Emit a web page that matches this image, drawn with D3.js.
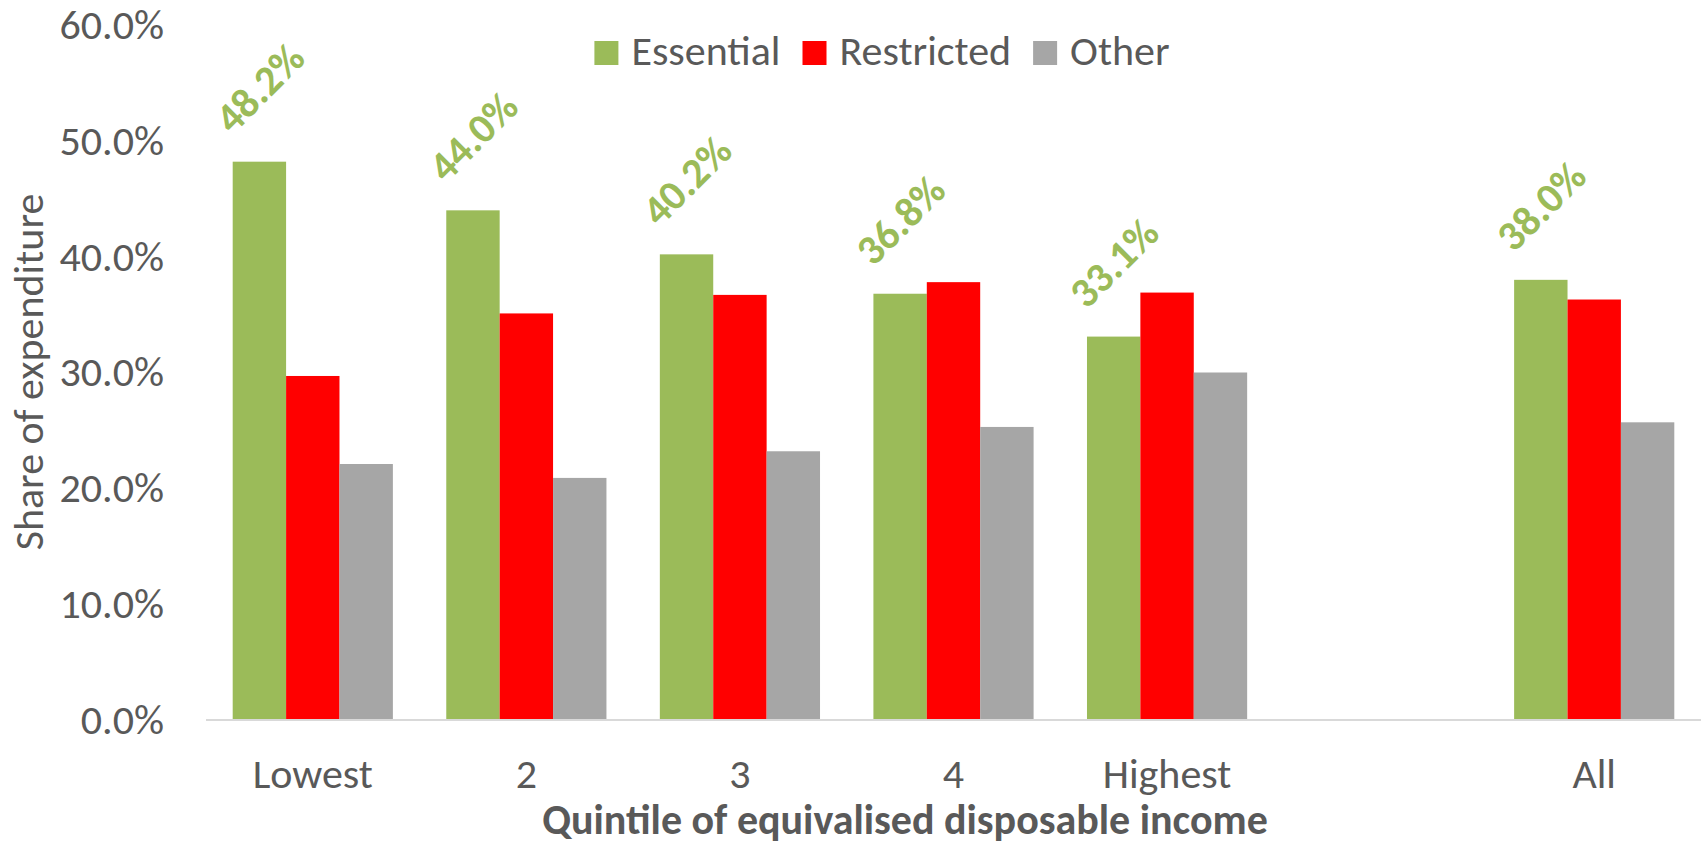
<!DOCTYPE html>
<html>
<head>
<meta charset="utf-8">
<script src="https://cdn.jsdelivr.net/npm/d3@7"></script>
<style>
	body { margin: 0; background: #fff; }
	text { font-family: Calibri, Carlito, Lato, sans-serif; }
</style>
</head>
<body>
<div id="viz"></div>
<script>
// categories (the blank one is the gap before "All")
const categories = ["Lowest", "2", "3", "4", "Highest", " ", "All"];
const series = ["Essential", "Restricted", "Other"];
const colors = ["#9bbb59", "#ff0000", "#a6a6a6"];
const essential = [0.482, 0.440, 0.402, 0.368, 0.331, null, 0.380];
const restricted = [0.297, 0.351, 0.367, 0.378, 0.369, null, 0.363];
const other = [0.221, 0.209, 0.232, 0.253, 0.300, null, 0.257];
const yTicks = [0, 0.1, 0.2, 0.3, 0.4, 0.5, 0.6];

function draw() {
	let W = 1701, H = 844;
	let left = 206, right = 1701, top = 25, bottom = 720;
	let txt = "#595959";
	let fs = "42px";

	let svg = d3.select("#viz").append("svg")
		.attr("width", W).attr("height", H);

	let x = d3.scaleBand().domain(categories)
		.range([left, right])
		.paddingInner(0.25).paddingOuter(0.125);
	let xs = d3.scaleBand().domain(series).range([0, x.bandwidth()]);
	let y = d3.scaleLinear().domain([0, 0.6]).range([bottom, top]);
	let col = d3.scaleOrdinal().domain(series).range(colors);

	let vals = [essential, restricted, other];
	let rows = [];
	categories.forEach((c, i) => {
		series.forEach((s, j) => {
			if (vals[j][i] != null) rows.push({ cat: c, ser: s, v: vals[j][i] });
		});
	});

	// bars
	svg.append("g").selectAll("rect").data(rows).join("rect")
		.attr("x", d => x(d.cat) + xs(d.ser))
		.attr("y", d => y(d.v))
		.attr("width", xs.bandwidth())
		.attr("height", d => y(0) - y(d.v))
		.style("fill", d => col(d.ser));

	// baseline
	svg.append("line")
		.attr("x1", left).attr("x2", right)
		.attr("y1", y(0)).attr("y2", y(0))
		.attr("stroke", "#d9d9d9").attr("stroke-width", 2);

	// y axis
	let yAx = svg.append("g")
		.attr("transform", "translate(" + left + ",0)")
		.call(d3.axisLeft(y).tickValues(yTicks).tickFormat(d3.format(".1%"))
			.tickSize(0).tickPadding(42));
	yAx.select(".domain").remove();
	yAx.selectAll("text")
		.style("font-size", fs).style("fill", txt)
		.style("font-family", "Calibri, Carlito, Lato, sans-serif");

	// x axis labels
	let xAx = svg.append("g")
		.attr("transform", "translate(0," + bottom + ")")
		.call(d3.axisBottom(x).tickSize(0).tickPadding(38));
	xAx.select(".domain").remove();
	xAx.selectAll("text")
		.style("font-size", fs).style("fill", txt)
		.style("font-family", "Calibri, Carlito, Lato, sans-serif");

	// rotated labels over the Essential bars
	svg.append("g").selectAll("text")
		.data(rows.filter(d => d.ser == "Essential")).join("text")
		.attr("transform", d => "translate(" + (x(d.cat) + xs(d.ser) + xs.bandwidth() / 2) + "," + (y(d.v) - 74) + ") rotate(-45)")
		.attr("text-anchor", "middle")
		.attr("dy", "0.35em")
		.text(d => d3.format(".1%")(d.v))
		.style("fill", "#9bbb59")
		.style("font-size", fs)
		.style("font-weight", "bold");

	// axis titles
	svg.append("text").text("Share of expenditure")
		.attr("transform", "translate(43,372) rotate(-90)")
		.attr("text-anchor", "middle")
		.style("fill", txt).style("font-size", fs);

	svg.append("text").text("Quintile of equivalised disposable income")
		.attr("x", 905).attr("y", 834)
		.attr("text-anchor", "middle")
		.style("fill", txt).style("font-size", fs)
		.style("font-weight", "bold");

	// legend
	let lg = svg.append("g");
	let lx = 0;
	series.forEach(s => {
		lg.append("rect")
			.attr("x", lx).attr("y", 41)
			.attr("width", 24).attr("height", 24)
			.style("fill", col(s));
		let t = lg.append("text").text(s)
			.attr("x", lx + 37).attr("y", 65)
			.style("fill", txt).style("font-size", fs);
		lx += 37 + t.node().getComputedTextLength() + 22;
	});
	lx -= 22;
	lg.attr("transform", "translate(" + (882 - lx / 2) + ",0)");
}
draw();
</script>
</body>
</html>
